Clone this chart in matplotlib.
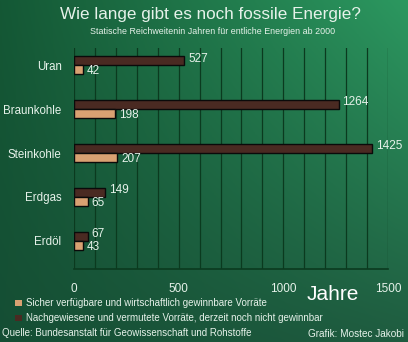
import numpy as np
import matplotlib.pyplot as plt

plt.rcParams['font.family'] = ['Liberation Sans', 'DejaVu Sans']

categories = ['Uran', 'Braunkohle', 'Steinkohle', 'Erdgas', 'Erdöl']
reserves_total = [527, 1264, 1425, 149, 67]     # nachgewiesen + vermutet
reserves_secure = [42, 198, 207, 65, 43]        # sicher verfügbar
xticks = [0, 500, 1000, 1500]

dark_col = '#4a2a22'
light_col = '#d9a172'
text_col = '#e6f2ea'
grid_col = '#0b3a1f'

W, H = 408, 342
fig = plt.figure(figsize=(W / 100, H / 100), dpi=100)

# background gradient
bg = fig.add_axes([0, 0, 1, 1])
bg.set_axis_off()
tl = np.array([0x14, 0x58, 0x35]) / 255
tr = np.array([0x2c, 0x98, 0x60]) / 255
bl = np.array([0x15, 0x4e, 0x34]) / 255
br = np.array([0x1f, 0x5c, 0x40]) / 255
u = np.linspace(0, 1, 200)[None, :, None]
v = np.linspace(0, 1, 200)[:, None, None]
img = (1 - v) * ((1 - u) * tl + u * tr) + v * ((1 - u) * bl + u * br)
bg.imshow(img, aspect='auto', extent=[0, 1, 0, 1], zorder=0)
bg.set_xlim(0, 1)
bg.set_ylim(0, 1)

# plot area: x 74..388 px, y 48..269 px
ax = fig.add_axes([74 / W, 1 - 269 / H, (388 - 74) / W, (269 - 48) / H])
ax.patch.set_alpha(0)
ax.set_xlim(0, 1500)
ax.set_ylim(4.64, -0.39)

y = np.arange(len(categories))
h = 0.2
for xv in range(0, 1501, 100):
    ax.axvline(xv, color=grid_col, lw=0.9, zorder=1)

ax.barh(y - h / 2, reserves_total, height=h, color=dark_col,
        edgecolor='#0a0a0a', lw=1.0, zorder=3)
ax.barh(y + h / 2, reserves_secure, height=h, color=light_col,
        edgecolor='#0a0a0a', lw=1.0, zorder=3)

for i in range(len(categories)):
    ax.text(reserves_total[i] + 18, y[i] - h / 2 - 0.05, str(reserves_total[i]),
            color=text_col, fontsize=8.5, va='center', ha='left', zorder=4)
    ax.text(reserves_secure[i] + 18, y[i] + h / 2 + 0.03, str(reserves_secure[i]),
            color=text_col, fontsize=8.5, va='center', ha='left', zorder=4)

for s in ['top', 'right', 'left']:
    ax.spines[s].set_visible(False)
ax.spines['bottom'].set_color(grid_col)
ax.spines['bottom'].set_linewidth(1.2)

ax.set_yticks(y)
ax.set_yticklabels(categories, color=text_col, fontsize=8.3)
ax.set_xticks(xticks)
ax.set_xticklabels([str(t) for t in xticks], color=text_col, fontsize=8.5)
ax.tick_params(axis='both', length=0)
ax.tick_params(axis='y', pad=9)
ax.tick_params(axis='x', pad=10)

fig.text(0.515, 1 - 15 / H, 'Wie lange gibt es noch fossile Energie?',
         ha='center', va='center', color=text_col, fontsize=12.3)
fig.text(0.52, 1 - 32 / H, 'Statische Reichweitenin Jahren für entliche Energien ab 2000',
         ha='center', va='center', color=text_col, fontsize=6.4)
fig.text(333 / W, 1 - 295 / H, 'Jahre', ha='center', va='center',
         color='white', fontsize=15)

# legend
legend_items = [(light_col, 'Sicher verfügbare und wirtschaftlich gewinnbare Vorräte'),
                (dark_col, 'Nachgewiesene und vermutete Vorräte, derzeit noch nicht gewinnbar')]
for k, (col, lab) in enumerate(legend_items):
    yy = 1 - (303 + 15 * k) / H
    bg.add_patch(plt.Rectangle((15 / W, yy - 3 / H), 7 / W, 6 / H,
                               facecolor=col, edgecolor='none', zorder=2))
    fig.text(26 / W, yy, lab, ha='left', va='center', color=text_col, fontsize=7.0)

fig.text(2 / W, 1 - 333 / H, 'Quelle: Bundesanstalt für Geowissenschaft und Rohstoffe',
         ha='left', va='center', color=text_col, fontsize=7.0)
fig.text(404 / W, 1 - 334 / H, 'Grafik: Mostec Jakobi',
         ha='right', va='center', color=text_col, fontsize=7.2)

fig.savefig('out.png', dpi=100)
